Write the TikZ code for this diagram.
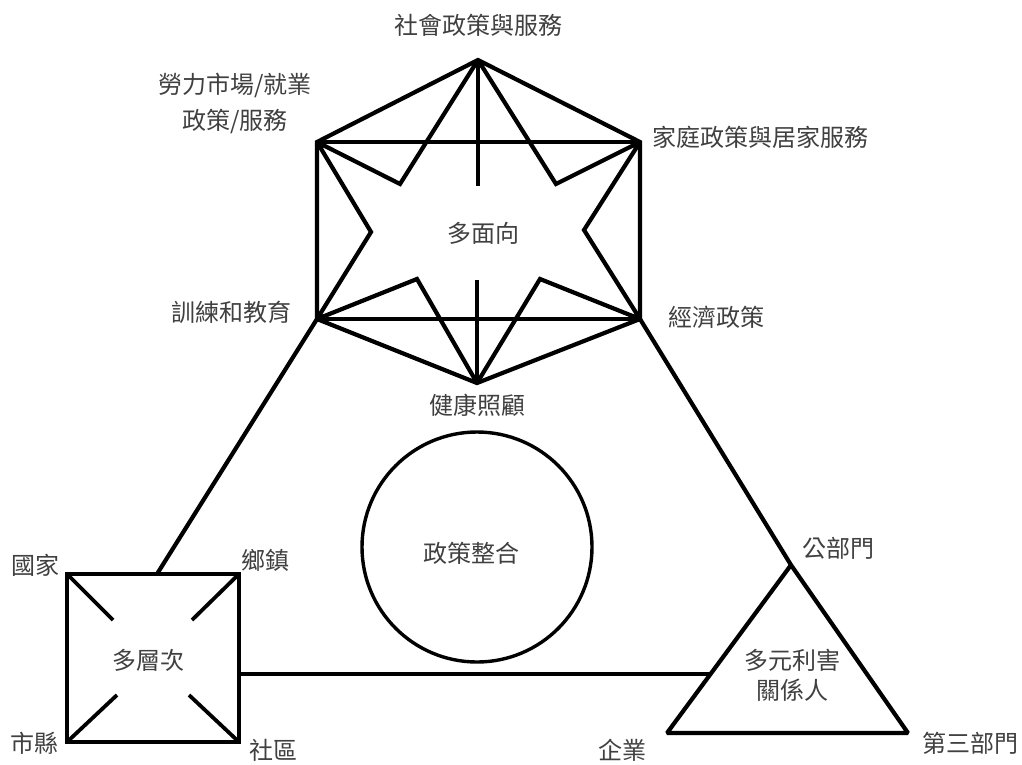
\documentclass[tikz,border=0pt]{standalone}
\usepackage{fontspec}
\setmainfont{Noto Sans CJK TC}
\usetikzlibrary{calc}
\begin{document}
\begin{tikzpicture}[x=1pt,y=-1pt,
  lbl/.style={text=black!75,font=\fontsize{24}{36}\selectfont,inner sep=0pt,align=center},
  thick line/.style={line width=4.2pt,line join=miter,miter limit=1.5},
  mid line/.style={line width=3.8pt}]
\useasboundingbox[fill=white] (0,0) rectangle (1022,764);
% hexagon vertices
\coordinate (T) at (478,60);
\coordinate (UL) at (317,142);
\coordinate (UR) at (640,142);
\coordinate (LL) at (317,319);
\coordinate (LR) at (640,319);
\coordinate (B) at (477,383);
% star inner points
\coordinate (s1) at (400,184);
\coordinate (s2) at (371,232);
\coordinate (s3) at (417,279);
\coordinate (s4) at (540,279);
\coordinate (s5) at (584,230);
\coordinate (s6) at (556,184);
\coordinate (v1) at (478,186);
\coordinate (v2) at (477,280);
% hexagon
\draw[thick line] (T) -- (UR) -- (LR) -- (B) -- (LL) -- (UL) -- cycle;
\draw[thick line] (UL) -- (UR);
\draw[thick line] (LL) -- (LR);
% star
\draw[thick line] (T) -- (s1) -- (UL) -- (s2) -- (LL) -- (s3) -- (B) -- (s4) -- (LR) -- (s5) -- (UR) -- (s6) -- cycle;
\draw[thick line] (T) -- (v1);
\draw[thick line] (B) -- (v2);
% square
\coordinate (q1) at (67,574);
\coordinate (q2) at (239,574);
\coordinate (q3) at (239,742);
\coordinate (q4) at (67,742);
\coordinate (qt) at (157,574);
\coordinate (qr) at (239,674);
\draw[line width=4.5pt] (q1) -- (q2) -- (q3) -- (q4) -- cycle;
\draw[mid line] (q1) -- ++(46,46);
\draw[mid line] (q2) -- ++(-47,46);
\draw[mid line] (q3) -- ++(-50,-47);
\draw[mid line] (q4) -- ++(50,-47);
% triangle
\coordinate (tA) at (791,565);
\coordinate (tL) at (667,733);
\coordinate (tR) at (908,733);
\coordinate (tm) at (710.5,674);
\draw[thick line] (tA) -- (tR) -- (tL) -- cycle;
% connectors
\draw[thick line] (LL) -- (qt);
\draw[thick line] (LR) -- (tA);
\draw[thick line] (qr) -- (tm);
% circle
\node[draw,line width=3.4pt,circle,minimum size=230pt,inner sep=0pt] (circ) at (477,547) {};
% labels
\node[lbl] (l1) at (478,25) {社會政策與服務};
\node[lbl] (l2) at (235,103) {勞力市場/就業\\政策/服務};
\node[lbl] (l3) at (760,137) {家庭政策與居家服務};
\node[lbl] (l4) at (483,233) {多面向};
\node[lbl] (l5) at (231,312) {訓練和教育};
\node[lbl] (l6) at (716,317) {經濟政策};
\node[lbl] (l7) at (477,405) {健康照顧};
\node[lbl] (l8) at (471,553) {政策整合};
\node[lbl] (l9) at (36,565) {國家};
\node[lbl] (l10) at (265,560) {鄉鎮};
\node[lbl] (l11) at (148,660) {多層次};
\node[lbl] (l12) at (34,743) {市縣};
\node[lbl] (l13) at (273,750) {社區};
\node[lbl] (l14) at (838,548) {公部門};
\node[lbl] (l15) at (792,675) {多元利害\\[-6pt]關係人};
\node[lbl] (l16) at (622,750) {企業};
\node[lbl] (l17) at (970,743) {第三部門};
\end{tikzpicture}
\end{document}
